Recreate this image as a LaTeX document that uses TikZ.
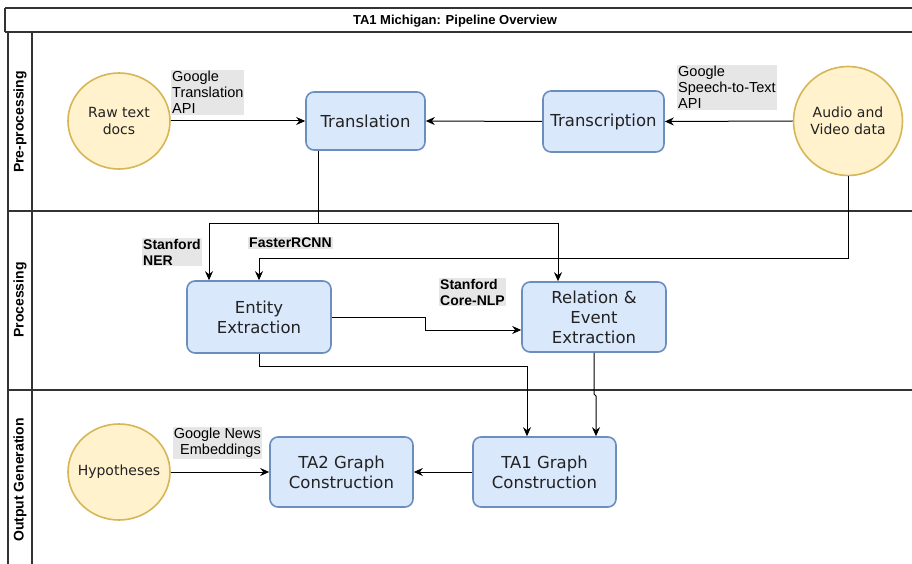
\documentclass[tikz,border=0pt]{standalone}
\usepackage{fontspec}
\setmainfont{DejaVu Sans}
\newfontfamily\lblfont{Liberation Sans}
\usetikzlibrary{arrows.meta,shapes.geometric}
\definecolor{boxfill}{HTML}{DAE8FC}
\definecolor{boxline}{HTML}{6C8EBF}
\definecolor{srcfill}{HTML}{FFF2CC}
\definecolor{srcline}{HTML}{D6B656}
\definecolor{tagbg}{HTML}{E6E6E6}
\definecolor{ink}{HTML}{222222}
\tikzset{
  x=1pt, y=-1pt,
  procbox/.style={draw=boxline, fill=boxfill, line width=1.6pt, rounded corners=8pt,
    text=ink, font=\fontsize{16.5}{20}\selectfont, align=center, inner sep=0pt},
  srcnode/.style={ellipse, draw=srcline, fill=srcfill, line width=1.6pt, inner sep=0pt,
    label={[text=ink, font=\fontsize{14}{17}\selectfont, align=center]center:#1}},
  tag/.style={fill=tagbg, inner sep=1pt, text=black, align=left,
    font=\lblfont\fontsize{14.5}{16}\selectfont},
  boldtag/.style={tag, font=\lblfont\bfseries\fontsize{14}{16}\selectfont},
  flow/.style={draw=black, line width=1pt, -{Stealth[length=9pt,width=8pt]}},
  lanerule/.style={draw=black!80, line width=1.3pt},
  lanetitle/.style={rotate=90, font=\lblfont\bfseries\fontsize{14}{16}\selectfont},
}
\begin{document}
\begin{tikzpicture}
\useasboundingbox (0,0) rectangle (912,564);
\fill[white] (0,0) rectangle (912,564);

% swimlane frame
\begin{scope}
\clip (0,0) rectangle (912,564);
\draw[lanerule] (5,8) -- (920,8);
\draw[lanerule] (5,32) -- (920,32);
\draw[lanerule] (5,8) -- (5,32);
\draw[lanerule] (8,32) -- (8,570);
\draw[lanerule] (32,32) -- (32,570);
\draw[lanerule] (8,211) -- (920,211);
\draw[lanerule] (8,390) -- (920,390);
\end{scope}
\node[font=\lblfont\bfseries\fontsize{13}{15}\selectfont] (title) at (455,21) {TA1 Michigan: Pipeline Overview};
\node[lanetitle] (lane1) at (20,122) {Pre-processing};
\node[lanetitle] (lane2) at (20,300) {Processing};
\node[lanetitle] (lane3) at (20,480) {Output Generation};

% source nodes (text placed as a centred label so the ellipse keeps its size)
\node[srcnode={Raw text\\docs}, minimum width=102pt, minimum height=96pt] (raw) at (119,121) {};
\node[srcnode={Audio and\\Video data}, minimum width=109pt, minimum height=109pt] (av) at (848,121) {};
\node[srcnode={Hypotheses}, minimum width=102pt, minimum height=96pt] (hyp) at (119,472) {};

% process boxes
\node[procbox, minimum width=119pt, minimum height=58pt] (trans) at (365.5,121) {Translation};
\node[procbox, minimum width=121pt, minimum height=61pt] (transc) at (603.5,121.5) {Transcription};
\node[procbox, minimum width=144pt, minimum height=72pt] (ent) at (259,317) {Entity\\Extraction};
\node[procbox, minimum width=144pt, minimum height=70pt] (rel) at (594,317) {Relation \&\\Event\\Extraction};
\node[procbox, minimum width=143pt, minimum height=70pt] (ta2) at (341.5,472) {TA2 Graph\\Construction};
\node[procbox, minimum width=143pt, minimum height=70pt] (ta1) at (544.5,472) {TA1 Graph\\Construction};

% connector labels
\node[tag, anchor=north west] (lgt) at (171,70) {Google\\Translation\\API};
\node[tag, anchor=north west] (lgs) at (677,65) {Google\\Speech-to-Text\\API};
\node[boldtag, anchor=north west] (lner) at (142,238) {Stanford\\NER};
\node[boldtag, anchor=north west] (lfr) at (248,237) {FasterRCNN};
\node[boldtag, anchor=north west] (lcore) at (439,278) {Stanford\\Core-NLP};
\node[tag, anchor=north east, align=right] (lgn) at (262,427) {Google News\\Embeddings};

% connectors
\draw[flow] (raw.east) -- (trans.west);
\draw[flow] (av.west) -- (transc.east);
\draw[flow] (transc.west) -- (trans.east);
\draw[flow] (trans.south -| 318,0) |- (209,223) -- (ent.north -| 209,0);
\draw[flow] (318,223) -| (rel.north -| 558,0);
\draw[flow] (av.south) |- (259,258) -- (ent.north);
\draw[flow] (ent.east) -- (425,317) |- (rel.west |- 0,330);
\draw[flow] (ent.south) |- (527,366) -- (ta1.north -| 527,0);
\draw[flow] (rel.south) -- (594,394) -- (596,396) -- (ta1.north -| 596,0);
\draw[flow] (hyp.east) -- (ta2.west);
\draw[flow] (ta1.west) -- (ta2.east);
\end{tikzpicture}
\end{document}
